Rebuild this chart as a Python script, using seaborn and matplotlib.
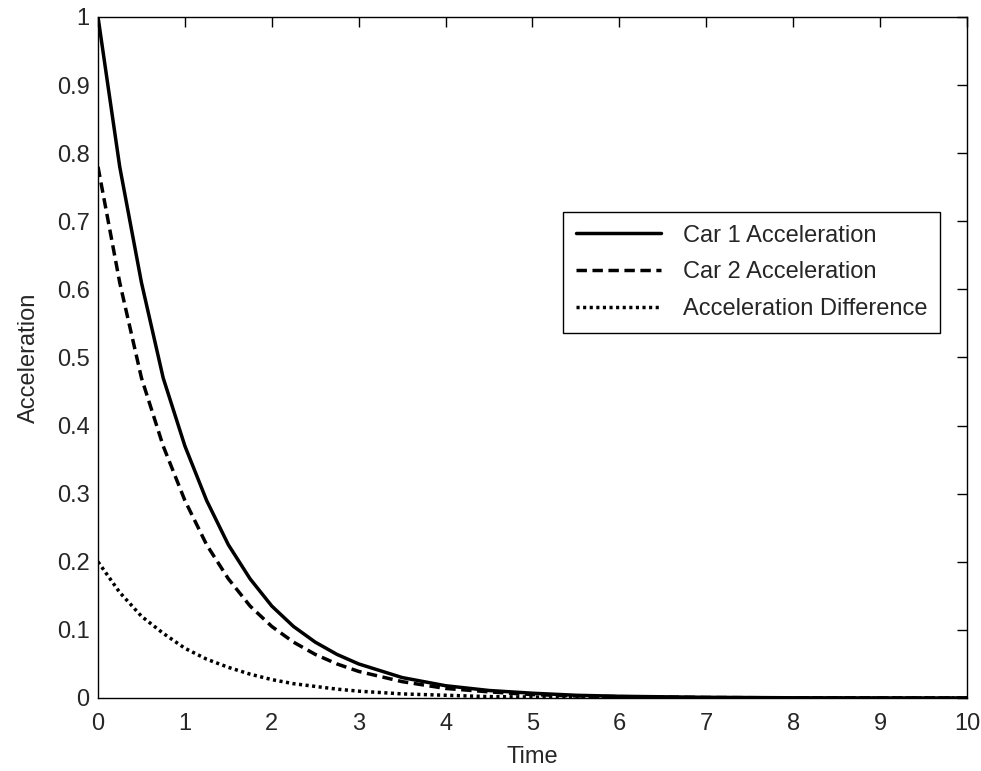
import matplotlib
matplotlib.use("Agg")
import matplotlib.pyplot as plt
import seaborn as sns
import pandas as pd

# values
time = [0, 0.25, 0.5, 0.75, 1, 1.25, 1.5, 1.75, 2, 2.25, 2.5, 2.75, 3,
        3.5, 4, 4.5, 5, 5.5, 6, 7, 8, 9, 10]
car1_acc = [1.0, 0.78, 0.61, 0.47, 0.37, 0.29, 0.225, 0.175, 0.135, 0.105, 0.082, 0.064, 0.05,
            0.03, 0.018, 0.011, 0.007, 0.004, 0.0025, 0.001, 0.0003, 0.0001, 0]
car2_acc = [0.78, 0.61, 0.47, 0.37, 0.29, 0.225, 0.175, 0.135, 0.105, 0.082, 0.064, 0.05, 0.039,
            0.024, 0.014, 0.009, 0.005, 0.003, 0.002, 0.0007, 0.0002, 0.0001, 0]
acc_diff = [0.2, 0.155, 0.12, 0.095, 0.073, 0.057, 0.045, 0.035, 0.027, 0.021, 0.017, 0.013, 0.01,
            0.006, 0.004, 0.002, 0.0014, 0.0009, 0.0005, 0.0002, 0.0001, 0, 0]

x_ticks = [0, 1, 2, 3, 4, 5, 6, 7, 8, 9, 10]
y_ticks = [0, 0.1, 0.2, 0.3, 0.4, 0.5, 0.6, 0.7, 0.8, 0.9, 1]
y_tick_labels = ["0", "0.1", "0.2", "0.3", "0.4", "0.5", "0.6", "0.7", "0.8", "0.9", "1"]

df = pd.DataFrame({"Time": time, "car1": car1_acc, "car2": car2_acc, "diff": acc_diff})

sns.set_style("white")
plt.rcParams["font.family"] = ["Liberation Sans", "DejaVu Sans"]

fig = plt.figure(figsize=(9.81, 7.71), dpi=100)
ax = fig.add_axes([0.0999, 0.0947, 0.8858, 0.8833])

sns.lineplot(data=df, x="Time", y="car1", ax=ax, color="black", linewidth=2.5,
             label="Car 1 Acceleration")
sns.lineplot(data=df, x="Time", y="car2", ax=ax, color="black", linewidth=2.5,
             label="Car 2 Acceleration")
sns.lineplot(data=df, x="Time", y="diff", ax=ax, color="black", linewidth=2.5,
             label="Acceleration Difference")
lines = ax.get_lines()
lines[1].set_dashes((3.0, 1.6))
lines[2].set_dashes((0.9, 1.0))
for ln in lines:
    ln.set_dash_capstyle("butt")

ax.set_xlim(0, 10)
ax.set_ylim(0, 1)
ax.set_xticks(x_ticks)
ax.set_yticks(y_ticks)
ax.set_yticklabels(y_tick_labels)
ax.tick_params(direction="in", length=7, width=1, top=True, right=True,
               labelsize=17, color="black")
ax.tick_params(axis="x", pad=11)
ax.tick_params(axis="y", pad=6)
for s in ax.spines.values():
    s.set_color("black")
    s.set_linewidth(1)

ax.set_xlabel("Time", fontsize=17, labelpad=8)
ax.set_ylabel("Acceleration", fontsize=17, labelpad=12)

leg = ax.legend(loc="upper right", bbox_to_anchor=(0.969, 0.714), fontsize=17,
                frameon=True, fancybox=False, edgecolor="black", framealpha=1,
                handlelength=3.6, handletextpad=0.9, labelspacing=0.62,
                borderpad=0.55, borderaxespad=0)
leg.get_frame().set_linewidth(1)

fig.savefig("out.png", dpi=100)
